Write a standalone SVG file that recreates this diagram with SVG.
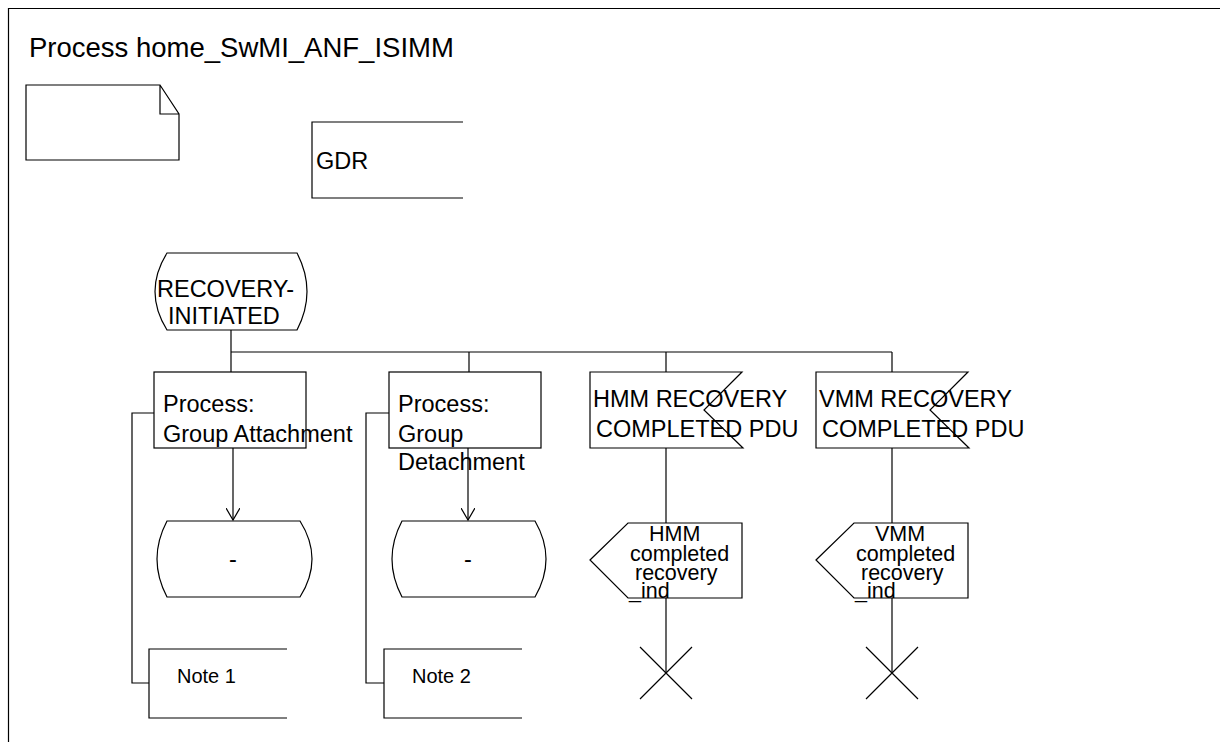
<svg xmlns="http://www.w3.org/2000/svg" width="1220" height="742" viewBox="0 0 1220 742">
<style>
.ln{fill:none;stroke:#000;stroke-width:1.2}
.sh{fill:#fff;stroke:#000;stroke-width:1.2}
.t{font-family:"Liberation Sans",Arial,sans-serif;font-size:23.5px;fill:#000}
.to{font-family:"Liberation Sans",Arial,sans-serif;font-size:21.5px;fill:#000}
.tn{font-family:"Liberation Sans",Arial,sans-serif;font-size:20px;fill:#000}
.tt{font-family:"Liberation Sans",Arial,sans-serif;font-size:27.5px;fill:#000}
</style>
<defs>
<marker id="arr" markerWidth="14" markerHeight="14" refX="12" refY="7" orient="auto" markerUnits="userSpaceOnUse">
<path d="M0,0 L12,7 L0,14" fill="none" stroke="#000" stroke-width="1.2"/>
</marker>
</defs>
<rect width="1220" height="742" fill="#fff"/>
<g id="frame">
<path class="ln" d="M8.5,742 V8.5 H1220" stroke-width="1.5"/>
<text class="tt" x="29" y="57">Process home_SwMI_ANF_ISIMM</text>
</g>
<g id="textsymbol">
<path class="ln" d="M26,85 H160 L179,114 V160 H26 Z M160,85 V114 H179"/>
</g>
<g id="gdr">
<path class="ln" d="M463,122 H312 V198 H463"/>
<text class="t" x="316" y="169">GDR</text>
</g>
<g id="connectors">
<path class="ln" d="M231,330 V372"/>
<path class="ln" d="M231,352 H892"/>
<path class="ln" d="M469,352 V372"/>
<path class="ln" d="M666,352 V372"/>
<path class="ln" d="M892,352 V372"/>
<path class="ln" d="M233,448 V520" marker-end="url(#arr)"/>
<path class="ln" d="M468,448 V520" marker-end="url(#arr)"/>
<path class="ln" d="M154,413 H132 V683 H149"/>
<path class="ln" d="M389,413 H366 V683 H384"/>
<path class="ln" d="M666,448 V523"/>
<path class="ln" d="M666,598 V673"/>
<path class="ln" d="M892,448 V523"/>
<path class="ln" d="M892,598 V673"/>
</g>
<g id="state_recovery">
<path class="sh" d="M167,253 H297 Q317,291.5 297,330 H167 Q143,291.5 167,253 Z"/>
<text class="t" x="157" y="297">RECOVERY-</text>
<text class="t" x="168" y="324">INITIATED</text>
</g>
<g id="task_attach">
<rect class="sh" x="154" y="372" width="152" height="76"/>
<text class="t" x="163" y="412">Process:</text>
<text class="t" x="163" y="442">Group Attachment</text>
</g>
<g id="task_detach">
<rect class="sh" x="389" y="372" width="152" height="76"/>
<text class="t" x="398" y="412">Process:</text>
<text class="t" x="398" y="442">Group</text>
<text class="t" x="398" y="470">Detachment</text>
</g>
<g id="input_hmm">
<path class="sh" d="M590,372 H742 L704,410 L743,448 H590 Z"/>
<text class="t" x="593" y="407">HMM RECOVERY</text>
<text class="t" x="596" y="437">COMPLETED PDU</text>
</g>
<g id="input_vmm">
<path class="sh" d="M816,372 H968 L930,410 L969,448 H816 Z"/>
<text class="t" x="819" y="407">VMM RECOVERY</text>
<text class="t" x="822" y="437">COMPLETED PDU</text>
</g>
<g id="state_dash1">
<path class="sh" d="M167,521 H300 Q324,559 300,597 H167 Q147,559 167,521 Z"/>
<text class="t" x="233" y="567" text-anchor="middle">-</text>
</g>
<g id="state_dash2">
<path class="sh" d="M402,521 H535 Q557,559 535,597 H402 Q382,559 402,521 Z"/>
<text class="t" x="468" y="567" text-anchor="middle">-</text>
</g>
<g id="output_hmm">
<path class="sh" d="M590,560 L628,523 H742 V598 H628 Z"/>
<text class="to" x="649" y="541">HMM</text>
<text class="to" x="630" y="561">completed</text>
<text class="to" x="635" y="580">recovery</text>
<text class="to" x="629" y="598">_ind</text>
</g>
<g id="output_vmm">
<path class="sh" d="M816,560 L854,523 H968 V598 H854 Z"/>
<text class="to" x="875" y="541">VMM</text>
<text class="to" x="856" y="561">completed</text>
<text class="to" x="861" y="580">recovery</text>
<text class="to" x="855" y="598">_ind</text>
</g>
<g id="note1">
<path class="ln" d="M287,649 H149 V718 H287"/>
<text class="tn" x="177" y="683">Note 1</text>
</g>
<g id="note2">
<path class="ln" d="M522,649 H384 V718 H522"/>
<text class="tn" x="412" y="683">Note 2</text>
</g>
<g id="stop_hmm">
<path class="ln" d="M640,647 L692,699 M692,647 L640,699"/>
</g>
<g id="stop_vmm">
<path class="ln" d="M866,647 L918,699 M918,647 L866,699"/>
</g>
</svg>
